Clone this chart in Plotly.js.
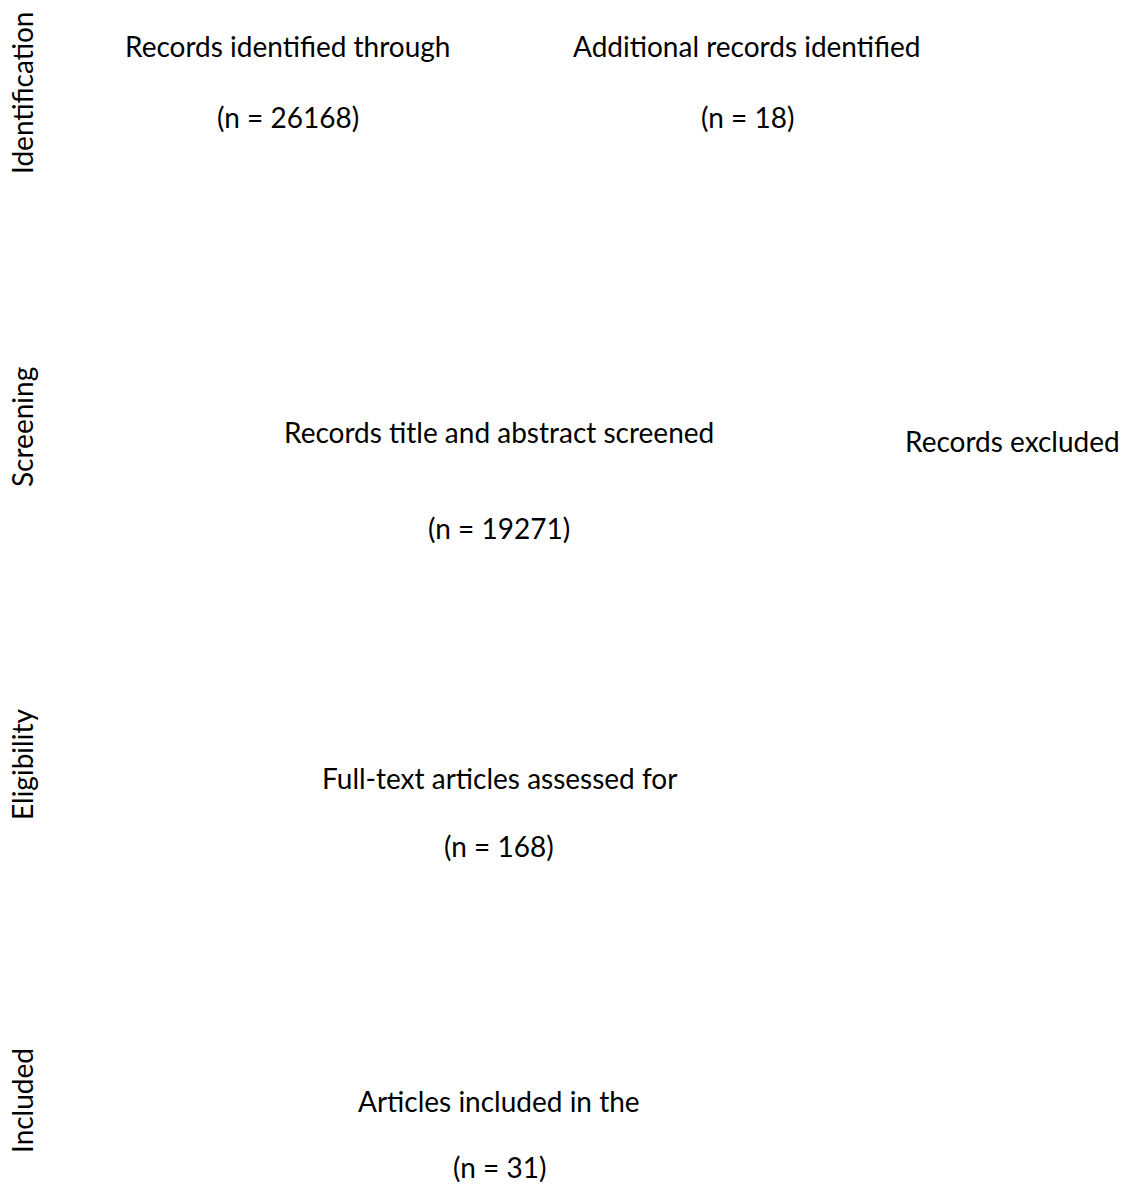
<!DOCTYPE html>
<html>
<head>
<meta charset="utf-8">
<script src="https://cdn.plot.ly/plotly-3.0.1.min.js"></script>
<style>html,body{margin:0;padding:0;background:#fff;}#chart{width:1129px;height:1186px;}</style>
</head>
<body>
<div id="chart"></div>
<script>
// Data
const stages = ["Identification", "Screening", "Eligibility", "Included"];
const boxTitles = [
  "Records identified through",
  "Additional records identified",
  "Records title and abstract screened",
  "Records excluded",
  "Full-text articles assessed for",
  "Articles included in the"
];
const boxCounts = [26168, 18, 19271, null, 168, 31];

// Layout (pixel positions)
const stageY = [93, 427, 765, 1101];
const stageX = 22;
const boxCenterX = [288, 747, 499, 1012, 499, 499];
const boxTitleY = [46, 46, 432, 441, 778, 1101];
const boxCountY = [117, 117, 528, null, 846, 1167];

const FONT = "Lato, 'Open Sans', sans-serif";
const annotations = [];
stages.forEach((s, i) => {
  annotations.push({
    x: stageX, y: stageY[i], xref: "x", yref: "y", text: s, showarrow: false,
    textangle: -90, xanchor: "center", yanchor: "middle", borderpad: 0,
    font: {family: FONT, size: 28, color: "#000"}
  });
});
boxTitles.forEach((t, i) => {
  annotations.push({
    x: boxCenterX[i], y: boxTitleY[i], xref: "x", yref: "y", text: t, showarrow: false,
    xanchor: "center", yanchor: "middle", borderpad: 0,
    font: {family: FONT, size: 28, color: "#000"}
  });
  if (boxCounts[i] !== null) {
    annotations.push({
      x: boxCenterX[i], y: boxCountY[i], xref: "x", yref: "y", text: "(n = " + boxCounts[i] + ")", showarrow: false,
      xanchor: "center", yanchor: "middle", borderpad: 0,
      font: {family: FONT, size: 28, color: "#000"}
    });
  }
});

const layout = {
  width: 1129, height: 1186,
  margin: {l: 0, r: 0, t: 0, b: 0},
  paper_bgcolor: "#fff", plot_bgcolor: "#fff",
  xaxis: {range: [0, 1129], visible: false, fixedrange: true},
  yaxis: {range: [1186, 0], visible: false, fixedrange: true},
  showlegend: false,
  annotations: annotations
};
Plotly.newPlot("chart", [], layout, {displayModeBar: false, staticPlot: true});
</script>
</body>
</html>
